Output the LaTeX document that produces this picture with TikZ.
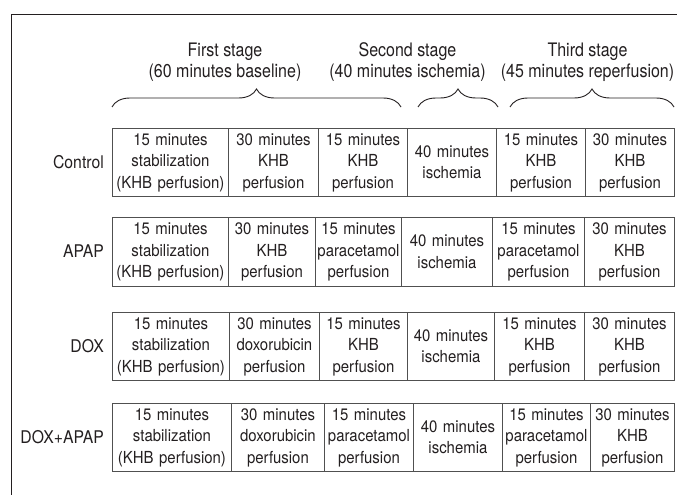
\documentclass[tikz,border=0pt]{standalone}
\usepackage{fontspec}
\setmainfont{TeX Gyre Heros}[FakeStretch=0.9]
\newfontfamily\headfont{TeX Gyre Heros}[FakeStretch=0.86]
\usetikzlibrary{decorations.pathreplacing}
\definecolor{ink}{HTML}{231F20}
\definecolor{edge}{HTML}{505050}
\begin{document}
\begin{tikzpicture}[x=1pt,y=-1pt,
  cell/.style={draw=edge, line width=0.9pt, text=ink, align=center,
    inner xsep=0pt, inner ysep=0pt, anchor=north west,
    font=\fontsize{16.6}{21.5}\selectfont},
  rowlab/.style={anchor=east, text=ink, inner sep=0pt,
    font=\fontsize{17.5}{20}\selectfont},
  head/.style={align=center, text=ink, inner sep=0pt,
    font=\headfont\fontsize{18.6}{20.5}\selectfont},
  stagebrace/.style={draw=ink, line width=0.9pt, decorate,
    decoration={brace, amplitude=18pt}},
  frameline/.style={draw=ink, line width=1pt}]
\useasboundingbox (0,0) rectangle (677,495);
% frame
\coordinate (fbl) at (11,496);
\coordinate (ftl) at (11,15);
\coordinate (ftr) at (678,15);
\draw[frameline] (fbl) -- (ftl) -- (ftr);
% headers
\node[head] (h1) at (225,62) {First stage\\(60 minutes baseline)};
\node[head] (h2) at (407.5,62) {Second stage\\(40 minutes ischemia)};
\node[head] (h3) at (587.5,62) {Third stage\\(45 minutes reperfusion)};
% braces
\coordinate (b1s) at (112,107); \coordinate (b1e) at (401,107);
\coordinate (b2s) at (418,107); \coordinate (b2e) at (498,107);
\coordinate (b3s) at (510,107); \coordinate (b3e) at (674,107);
\draw[stagebrace] (b1s) -- (b1e);
\draw[stagebrace] (b2s) -- (b2e);
\draw[stagebrace] (b3s) -- (b3e);
% row labels
\node[rowlab] (l1) at (104,162) {Control};
\node[rowlab] (l2) at (104,251.5) {APAP};
\node[rowlab] (l3) at (104,346) {DOX};
\node[rowlab] (l4) at (104,437) {DOX+APAP};
% row 1
\foreach \a/\b/\t [count=\i, evaluate=\b as \w using \b-\a] in {
  112/228/{15 minutes\\stabilization\\(KHB perfusion)},
  228/318/{30 minutes\\KHB\\perfusion},
  318/407/{15 minutes\\KHB\\perfusion},
  407/496/{40 minutes\\ischemia},
  496/585/{15 minutes\\KHB\\perfusion},
  585/674/{30 minutes\\KHB\\perfusion}}
  \node[cell, text width=\w pt, minimum height=68pt] (r1c\i) at (\a,128) {\t};
% row 2
\foreach \a/\b/\t [count=\i, evaluate=\b as \w using \b-\a] in {
  112/228/{15 minutes\\stabilization\\(KHB perfusion)},
  228/315/{30 minutes\\KHB\\perfusion},
  315/401/{15 minutes\\paracetamol\\perfusion},
  401/492/{40 minutes\\ischemia},
  492/584/{15 minutes\\paracetamol\\perfusion},
  584/674/{30 minutes\\KHB\\perfusion}}
  \node[cell, text width=\w pt, minimum height=69pt] (r2c\i) at (\a,217) {\t};
% row 3
\foreach \a/\b/\t [count=\i, evaluate=\b as \w using \b-\a] in {
  112/229/{15 minutes\\stabilization\\(KHB perfusion)},
  229/319/{30 minutes\\doxorubicin\\perfusion},
  319/407/{15 minutes\\KHB\\perfusion},
  407/494/{40 minutes\\ischemia},
  494/584/{15 minutes\\KHB\\perfusion},
  584/674/{30 minutes\\KHB\\perfusion}}
  \node[cell, text width=\w pt, minimum height=68pt] (r3c\i) at (\a,312) {\t};
% row 4
\foreach \a/\b/\t [count=\i, evaluate=\b as \w using \b-\a] in {
  112/231/{15 minutes\\stabilization\\(KHB perfusion)},
  231/324/{30 minutes\\doxorubicin\\perfusion},
  324/413/{15 minutes\\paracetamol\\perfusion},
  413/502/{40 minutes\\ischemia},
  502/590/{15 minutes\\paracetamol\\perfusion},
  590/674/{30 minutes\\KHB\\perfusion}}
  \node[cell, text width=\w pt, minimum height=68pt] (r4c\i) at (\a,403) {\t};
\end{tikzpicture}
\end{document}
